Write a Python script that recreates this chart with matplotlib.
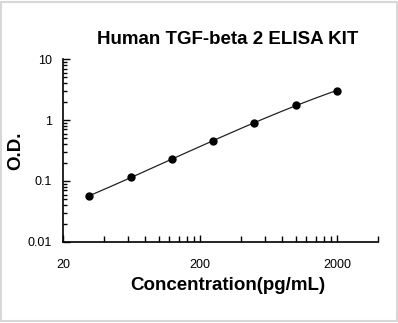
import numpy as np
import matplotlib
matplotlib.use("Agg")
import matplotlib.pyplot as plt
from matplotlib.ticker import FixedLocator, NullFormatter, LogLocator

plt.rcParams['font.family'] = ['Liberation Sans', 'DejaVu Sans']

# standard curve
conc = [31.25, 62.5, 125, 250, 500, 1000, 2000]
od = [0.057, 0.115, 0.227, 0.458, 0.90, 1.74, 3.05]
x_ticks = [20, 200, 2000]
x_tick_labels = ["20", "200", "2000"]
y_ticks = [0.01, 0.1, 1, 10]
y_tick_labels = ["0.01", "0.1", "1", "10"]

fig = plt.figure(figsize=(3.98, 3.23), dpi=100)
ax = fig.add_axes([0.158, 0.251, 0.792, 0.566])

# smooth fit in log-log space
lx, ly = np.log10(conc), np.log10(od)
coef = np.polyfit(lx, ly, 3)
xs = np.linspace(lx[0], lx[-1], 200)
ax.plot(10 ** xs, 10 ** np.polyval(coef, xs), color="#222222", lw=0.9)
ax.plot(conc, od, "o", color="black", ms=5)

ax.set_xscale("log")
ax.set_yscale("log")
ax.set_xlim(20, 4000)
ax.set_ylim(0.01, 10)

ax.xaxis.set_major_locator(FixedLocator(x_ticks))
ax.set_xticklabels(x_tick_labels)
minor_x = [m * d for d in (20, 200) for m in range(2, 10)] + [4000]
ax.xaxis.set_minor_locator(FixedLocator(minor_x))
ax.xaxis.set_minor_formatter(NullFormatter())
ax.yaxis.set_major_locator(FixedLocator(y_ticks))
ax.set_yticklabels(y_tick_labels)
ax.yaxis.set_minor_locator(LogLocator(base=10, subs=np.arange(2, 10)))
ax.yaxis.set_minor_formatter(NullFormatter())

ax.tick_params(which="major", direction="in", length=5, width=1, labelsize=9, pad=8)
ax.tick_params(axis="x", which="major", pad=12)
ax.tick_params(which="minor", direction="in", length=4, width=1)
ax.tick_params(axis="y", which="minor", length=3)

for s in ("top", "right"):
    ax.spines[s].set_visible(False)
for s in ("left", "bottom"):
    ax.spines[s].set_linewidth(1.2)

ax.set_xlabel("Concentration(pg/mL)", fontsize=13.5, fontweight="bold")
ax.xaxis.set_label_coords(0.524, -0.19)
ax.set_ylabel("O.D.", fontsize=13.5, fontweight="bold", labelpad=2)
fig.text(0.573, 0.878, "Human TGF-beta 2 ELISA KIT", ha="center", va="center",
         fontsize=13.5, fontweight="bold")

fig.patches.append(plt.Rectangle((0.003, 0.005), 0.994, 0.99, transform=fig.transFigure,
                                 fill=False, edgecolor="#d8d8d8", lw=1.5))

fig.savefig("out.png", dpi=100)
